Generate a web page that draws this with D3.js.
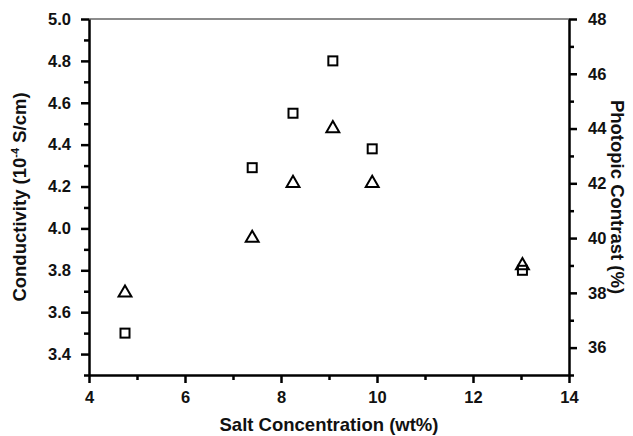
<!DOCTYPE html>
<html>
<head>
<meta charset="utf-8">
<script src="https://cdn.jsdelivr.net/npm/d3@7"></script>
<style>
	body { margin: 0; background: #fff; }
	svg text { font-family: "Liberation Sans", Arial, sans-serif; font-weight: bold; fill: #111; }
</style>
</head>
<body>
<svg id="chart" width="633" height="436"></svg>
<script>
// values
var salt = [4.75, 7.4, 8.25, 9.08, 9.9, 13.03];
var conductivity = [3.50, 4.29, 4.55, 4.80, 4.38, 3.80];
var contrast = [38.0, 40.0, 42.0, 44.0, 42.0, 39.0];

var xTicks = [4, 6, 8, 10, 12, 14];
var leftTicks = [3.4, 3.6, 3.8, 4.0, 4.2, 4.4, 4.6, 4.8, 5.0];
var rightTicks = [36, 38, 40, 42, 44, 46, 48];

var margin = {top: 19, right: 64, bottom: 61, left: 89};
var width = 633 - margin.left - margin.right,
	height = 436 - margin.top - margin.bottom;

var svg = d3.select("#chart");
var g = svg.append("g").attr("transform", "translate(" + margin.left + "," + margin.top + ")");

var x = d3.scaleLinear().domain([4, 14]).range([0, width]);
var yLeft = d3.scaleLinear().domain([3.3, 5.0]).range([height, 0]);
var yRight = d3.scaleLinear().domain([35, 48]).range([height, 0]);

// top border, thinner and grey
g.append("line")
	.attr("x1", 0).attr("x2", width).attr("y1", 0).attr("y2", 0)
	.attr("stroke", "#666").attr("stroke-width", 1.6);

var styleAxis = function(sel) {
	sel.selectAll("path, line").style("stroke", "#000").style("stroke-width", 2.5);
	sel.selectAll("text").style("font-size", "16.5px").style("fill", "#111");
};

// minor ticks first, then the major axes on top
g.append("g")
	.attr("transform", "translate(0," + height + ")")
	.call(d3.axisBottom(x).tickValues(d3.range(5, 14, 2)).tickSize(5).tickFormat(""))
	.call(styleAxis)
	.select(".domain").remove();
g.append("g")
	.call(d3.axisLeft(yLeft).tickValues(d3.range(3.3, 5.0, 0.2)).tickSize(5).tickFormat(""))
	.call(styleAxis)
	.select(".domain").remove();
g.append("g")
	.attr("transform", "translate(" + width + ",0)")
	.call(d3.axisRight(yRight).tickValues(d3.range(35, 48, 2)).tickSize(5).tickFormat(""))
	.call(styleAxis)
	.select(".domain").remove();

g.append("g")
	.attr("transform", "translate(0," + height + ")")
	.call(d3.axisBottom(x).tickValues(xTicks).tickSize(8).tickSizeOuter(0).tickPadding(8).tickFormat(d3.format("d")))
	.call(styleAxis);
g.append("g")
	.call(d3.axisLeft(yLeft).tickValues(leftTicks).tickSize(8).tickSizeOuter(0).tickPadding(10).tickFormat(d3.format(".1f")))
	.call(styleAxis);
g.append("g")
	.attr("transform", "translate(" + width + ",0)")
	.call(d3.axisRight(yRight).tickValues(rightTicks).tickSize(8).tickSizeOuter(0).tickPadding(11).tickFormat(d3.format("d")))
	.call(styleAxis);

// squares: conductivity on the left axis
g.selectAll("rect.cond")
	.data(salt)
	.enter().append("rect")
	.attr("class", "cond")
	.attr("x", function(d) { return x(d) - 4.5; })
	.attr("y", function(d, i) { return yLeft(conductivity[i]) - 4.5; })
	.attr("width", 9).attr("height", 9)
	.attr("fill", "none").attr("stroke", "#000").attr("stroke-width", 2);

// triangles: photopic contrast on the right axis
var tri = d3.symbol().type(d3.symbolTriangle).size(72);
g.selectAll("path.contrast")
	.data(salt)
	.enter().append("path")
	.attr("class", "contrast")
	.attr("d", tri)
	.attr("transform", function(d, i) { return "translate(" + x(d) + "," + yRight(contrast[i]) + ")"; })
	.attr("fill", "none").attr("stroke", "#000").attr("stroke-width", 2);

// axis titles
svg.append("text")
	.attr("x", margin.left + width / 2).attr("y", 431)
	.attr("text-anchor", "middle").style("font-size", "18.5px")
	.text("Salt Concentration (wt%)");

var lt = svg.append("text")
	.attr("transform", "translate(26," + (margin.top + height / 2) + ") rotate(-90)")
	.attr("text-anchor", "middle").style("font-size", "18.5px");
lt.append("tspan").text("Conductivity (10");
lt.append("tspan").attr("dy", -7).style("font-size", "11px").text("-4");
lt.append("tspan").attr("dy", 7).text(" S/cm)");

svg.append("text")
	.attr("transform", "translate(611," + (margin.top + height / 2) + ") rotate(90)")
	.attr("text-anchor", "middle").style("font-size", "18.5px")
	.text("Photopic Contrast (%)");
</script>
</body>
</html>
